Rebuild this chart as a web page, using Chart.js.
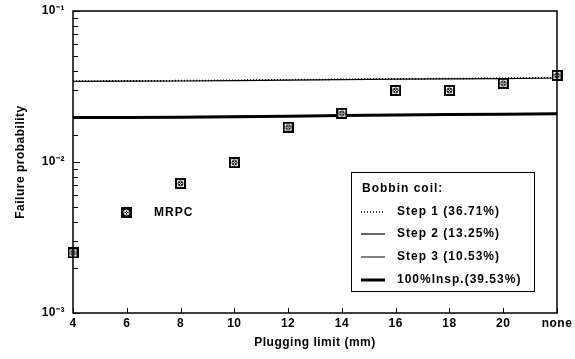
<!DOCTYPE html>
<html>
<head>
<meta charset="utf-8">
<script src="https://cdn.jsdelivr.net/npm/chart.js@4.4.1/dist/chart.umd.min.js"></script>
<style>
  html, body { margin: 0; padding: 0; background: #fff; }
  #wrap { width: 575px; height: 359px; }
</style>
</head>
<body>
<div id="wrap"><canvas id="failchart"></canvas></div>
<script>
// plugging limit categories (mm)
var limits = ['4', '6', '8', '10', '12', '14', '16', '18', '20', 'none'];
// MRPC failure probability
var mrpc = [0.0025, null, 0.0072, 0.0099, 0.0170, 0.0210, 0.0298, 0.0298, 0.0332, 0.0375];
// bobbin coil curves
var step1 = [0.0344, 0.0345, 0.0346, 0.0348, 0.0351, 0.0353, 0.0356, 0.0357, 0.0359, 0.0362];
var step2 = [0.0342, 0.0343, 0.0344, 0.0346, 0.0349, 0.0351, 0.0354, 0.0355, 0.0357, 0.0360];
var step3 = [0.0199, 0.0199, 0.0200, 0.0201, 0.0202, 0.0204, 0.0206, 0.0207, 0.0208, 0.0210];
var insp100 = [0.0197, 0.0197, 0.0198, 0.0199, 0.0201, 0.0203, 0.0205, 0.0206, 0.0207, 0.0209];
var yTickLabels = { '0.1': '10\u207B\u00B9', '0.01': '10\u207B\u00B2', '0.001': '10\u207B\u00B3' };

var FONT = 'Liberation Sans, Arial, sans-serif';

function boxMarker(filled) {
    var c = document.createElement('canvas');
    c.width = 11; c.height = 11;
    var g = c.getContext('2d');
    if (filled) {
        g.fillStyle = '#000';
        g.fillRect(0, 0, 11, 11);
        g.strokeStyle = '#fff';
    } else {
        g.fillStyle = '#fff';
        g.fillRect(0, 0, 11, 11);
        g.strokeStyle = '#000';
        g.lineWidth = 2;
        g.strokeRect(1, 1, 9, 9);
    }
    g.lineWidth = 1;
    g.beginPath();
    g.arc(5.5, 5.5, 2.5, 0, Math.PI * 2);
    g.stroke();
    g.beginPath();
    g.moveTo(3.8, 3.8); g.lineTo(7.2, 7.2);
    g.moveTo(7.2, 3.8); g.lineTo(3.8, 7.2);
    g.stroke();
    return c;
}
var openBox = boxMarker(false);
var solidBox = boxMarker(true);

var frameAndLegend = {
    id: 'frameAndLegend',
    beforeDraw: function (chart) {
        chart.ctx.letterSpacing = '0.5px';
    },
    afterDraw: function (chart) {
        var ctx = chart.ctx, a = chart.chartArea;
        var ys = chart.scales.y, xs = chart.scales.x;
        ctx.save();
        ctx.strokeStyle = '#000';
        // frame
        ctx.lineWidth = 1.5;
        ctx.strokeRect(a.left, a.top, a.right - a.left, a.bottom - a.top);
        // inward ticks
        ctx.lineWidth = 1;
        ys.ticks.forEach(function (t) {
            var py = Math.round(ys.getPixelForValue(t.value)) + 0.5;
            var len = yTickLabels[String(t.value)] ? 7 : 5;
            ctx.beginPath();
            ctx.moveTo(a.left, py); ctx.lineTo(a.left + len, py);
            ctx.stroke();
        });
        limits.forEach(function (l, i) {
            var px = Math.round(xs.getPixelForValue(i)) + 0.5;
            ctx.beginPath();
            ctx.moveTo(px, a.bottom); ctx.lineTo(px, a.bottom - 5);
            ctx.stroke();
        });
        // MRPC legend
        ctx.letterSpacing = '1px';
        ctx.drawImage(solidBox, 121, 207);
        ctx.fillStyle = '#000';
        ctx.font = 'bold 12px ' + FONT;
        ctx.textBaseline = 'middle';
        ctx.fillText(chart.data.datasets[0].label, 154, 213);
        // bobbin coil legend box
        ctx.lineWidth = 1;
        ctx.strokeRect(351.5, 172.5, 183, 119);
        ctx.fillText('Bobbin coil:', 362, 189);
        var rowY = [212, 234, 257, 280];
        for (var i = 1; i < chart.data.datasets.length; i++) {
            var ds = chart.data.datasets[i];
            var y = rowY[i - 1];
            ctx.beginPath();
            ctx.lineWidth = ds.borderWidth;
            ctx.setLineDash(ds.borderDash || []);
            ctx.moveTo(361, y); ctx.lineTo(385, y);
            ctx.stroke();
            ctx.setLineDash([]);
            ctx.fillText(ds.label, 397, y);
        }
        ctx.restore();
    }
};

var ctx = document.getElementById('failchart').getContext('2d');
var chart = new Chart(ctx, {
    type: 'line',
    data: {
        labels: limits,
        datasets: [{
            label: 'MRPC',
            data: mrpc,
            showLine: false,
            pointStyle: openBox,
            pointRadius: 5,
            borderColor: '#000',
            backgroundColor: '#000'
        }, {
            label: 'Step 1 (36.71%)',
            data: step1,
            borderColor: '#000',
            borderWidth: 1.5,
            borderDash: [1, 2],
            pointRadius: 0
        }, {
            label: 'Step 2 (13.25%)',
            data: step2,
            borderColor: '#000',
            borderWidth: 1.2,
            pointRadius: 0
        }, {
            label: 'Step 3 (10.53%)',
            data: step3,
            borderColor: '#000',
            borderWidth: 1,
            pointRadius: 0
        }, {
            label: '100%Insp.(39.53%)',
            data: insp100,
            borderColor: '#000',
            borderWidth: 3,
            pointRadius: 0
        }]
    },
    options: {
        responsive: true,
        maintainAspectRatio: false,
        animation: false,
        layout: { padding: { left: 0, right: 18, top: 11, bottom: 0 } },
        plugins: { legend: { display: false }, tooltip: { enabled: false } },
        scales: {
            x: {
                type: 'category',
                offset: false,
                grid: { display: false, tickLength: 0 },
                border: { display: false },
                ticks: {
                    color: '#000',
                    font: { family: FONT, size: 12, weight: 'bold' },
                    padding: 3,
                    maxRotation: 0,
                    autoSkip: false
                },
                title: {
                    display: true,
                    text: 'Plugging limit (mm)',
                    color: '#000',
                    font: { family: FONT, size: 12, weight: 'bold' },
                    padding: { top: 8, bottom: 9 }
                },
                afterFit: function (s) {
                    s.height = 46;
                    s.paddingLeft = 0;
                    s.paddingRight = 0;
                }
            },
            y: {
                type: 'logarithmic',
                min: 0.001,
                max: 0.1,
                grid: { display: false, tickLength: 0 },
                border: { display: false },
                ticks: {
                    color: '#000',
                    font: { family: FONT, size: 12, weight: 'bold' },
                    padding: 8,
                    autoSkip: false,
                    callback: function (v) {
                        return yTickLabels[String(v)] || '';
                    }
                },
                title: {
                    display: true,
                    text: 'Failure probability',
                    color: '#000',
                    font: { family: FONT, size: 12, weight: 'bold' },
                    padding: { top: 13, bottom: 0 }
                },
                afterFit: function (s) {
                    s.width = 73;
                    s.paddingTop = 0;
                    s.paddingBottom = 0;
                }
            }
        }
    },
    plugins: [frameAndLegend]
});
</script>
</body>
</html>
